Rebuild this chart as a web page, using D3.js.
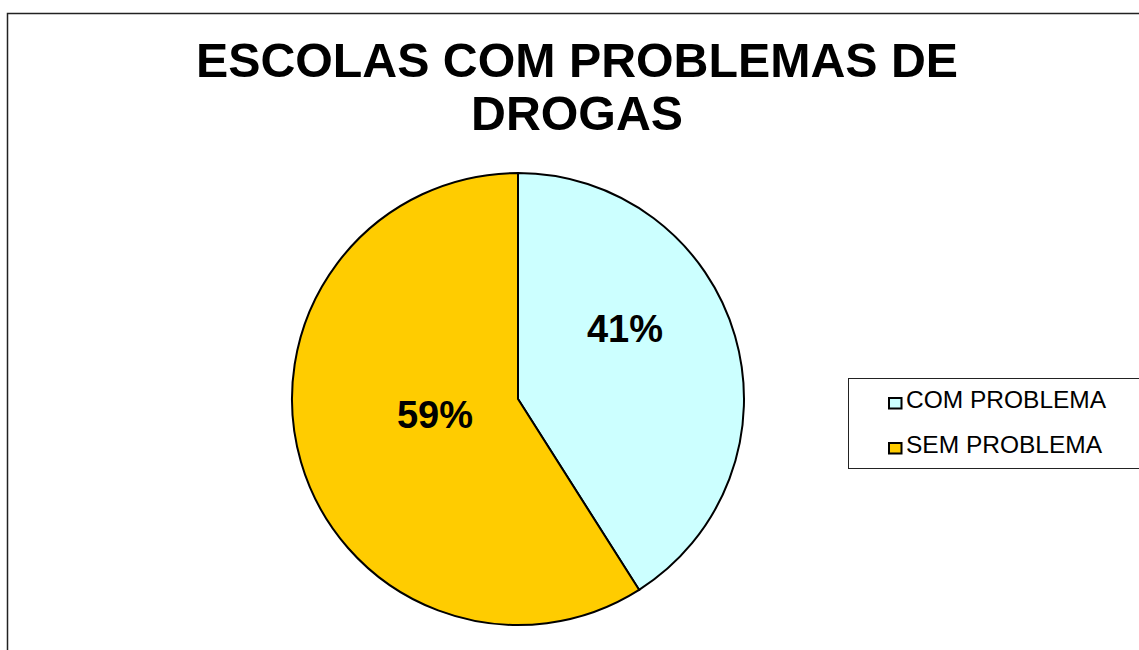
<!DOCTYPE html>
<html>
<head>
<meta charset="utf-8">
<script src="https://cdn.jsdelivr.net/npm/d3@7"></script>
<style>
  body { margin: 0; background: #fff; }
  svg { display: block; font-family: Arial, "Liberation Sans", sans-serif; }
</style>
</head>
<body>
<div id="wrapper"></div>
<script>
// data
const titleLines = ['ESCOLAS COM PROBLEMAS DE', 'DROGAS'];
const categories = ['COM PROBLEMA', 'SEM PROBLEMA'];
const values = [41, 59];
const colors = ['#CCFFFF', '#FFCC00'];

const width = 1139;
const height = 650;

const svg = d3.select('#wrapper').append('svg')
  .attr('width', width)
  .attr('height', height);

// chart frame (runs off the right and bottom edges)
svg.append('rect')
  .attr('x', 7.5).attr('y', 13.5)
  .attr('width', 1140).attr('height', 660)
  .attr('fill', 'none').attr('stroke', '#222').attr('stroke-width', 1.5);

// title
svg.append('text')
  .attr('text-anchor', 'middle')
  .attr('font-size', 48.3).attr('font-weight', 'bold')
  .selectAll('tspan')
  .data(titleLines)
  .join('tspan')
  .attr('x', 577)
  .attr('y', (d, i) => 77 + i * 53)
  .text(d => d);

// pie
const cx = 518, cy = 399, r = 226;
const pie = d3.pie().sort(null).value(d => d);
const arcs = pie(values);
const arc = d3.arc().innerRadius(0).outerRadius(r);

const g = svg.append('g').attr('transform', `translate(${cx},${cy})`);

g.selectAll('path')
  .data(arcs)
  .join('path')
  .attr('d', arc)
  .attr('fill', (d, i) => colors[i])
  .attr('stroke', '#000')
  .attr('stroke-width', 2);

const total = d3.sum(values);
g.selectAll('text.lbl')
  .data(arcs)
  .join('text')
  .attr('class', 'lbl')
  .attr('text-anchor', 'middle')
  .attr('font-size', 38).attr('font-weight', 'bold')
  .attr('x', (d, i) => i === 0 ? 107 : -83)
  .attr('y', (d, i) => i === 0 ? -57 : 29)
  .text(d => Math.round(d.value / total * 100) + '%');

// legend
const legend = svg.append('g');
legend.append('rect')
  .attr('x', 848.5).attr('y', 378.5)
  .attr('width', 300).attr('height', 90)
  .attr('fill', '#fff').attr('stroke', '#222').attr('stroke-width', 1);

const items = legend.selectAll('g.item')
  .data(categories)
  .join('g')
  .attr('class', 'item')
  .attr('transform', (d, i) => `translate(888,${397 + i * 45})`);

items.append('rect')
  .attr('x', 1).attr('y', 1)
  .attr('width', 12.5).attr('height', 10.5)
  .attr('fill', (d, i) => colors[i])
  .attr('stroke', '#000').attr('stroke-width', 2);

items.append('text')
  .attr('x', 18).attr('y', 11)
  .attr('font-size', 24.5)
  .text(d => d);
</script>
</body>
</html>
